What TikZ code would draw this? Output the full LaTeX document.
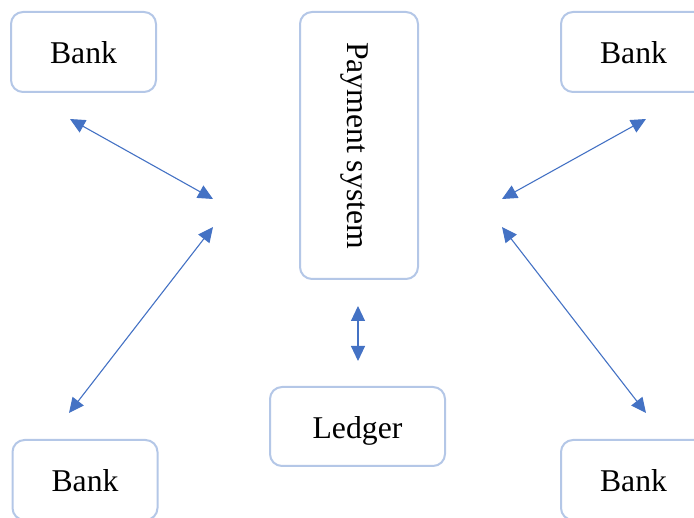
\documentclass[tikz,border=0pt]{standalone}
\usepackage{fontspec}
\setmainfont{Liberation Serif}
\usetikzlibrary{arrows.meta}
\definecolor{boxline}{HTML}{B4C7E7}
\definecolor{flow}{HTML}{4472C4}
\tikzset{
  label text/.style={inner sep=0pt, text height=24pt, text depth=0pt,
    font=\fontsize{31.7}{38}\selectfont},
  unit/.style={draw=boxline, line width=2pt, rounded corners=12pt, fill=white,
    label text},
  link/.style={draw=flow, line width=1.1pt,
    {Triangle[length=15pt,width=14pt]}-{Triangle[length=15pt,width=14pt]}}
}
\begin{document}
\begin{tikzpicture}[x=1pt, y=-1pt]
  \useasboundingbox (0,0) rectangle (694,518);
  \clip (0,0) rectangle (694,518);

  % participants
  \node[unit, minimum width=145pt, minimum height=80pt] (bankTL) at (83.5,52) {Bank};
  \node[unit, minimum width=145pt, minimum height=80pt] (bankTR) at (633.5,52) {Bank};
  \node[unit, minimum width=145pt, minimum height=80pt] (bankBL) at (85,480) {Bank};
  \node[unit, minimum width=145pt, minimum height=80pt] (bankBR) at (633.5,480) {Bank};
  \node[unit, minimum width=118pt, minimum height=267pt] (pay) at (359,145.5) {};
  \node[label text, rotate=-90] (paytext) at (pay.center) {Payment system};
  \node[unit, minimum width=175pt, minimum height=79pt] (ledger) at (357.5,426.5) {Ledger};

  % free ends of the message links
  \coordinate (tlA) at (70,119);   \coordinate (tlB) at (213,199);
  \coordinate (blA) at (213,227);  \coordinate (blB) at (69,413);
  \coordinate (trA) at (646,119);  \coordinate (trB) at (502,199);
  \coordinate (brA) at (502,227);  \coordinate (brB) at (646,413);
  \coordinate (ldA) at (358,306);  \coordinate (ldB) at (358,361);

  \draw[link] (tlA) -- (tlB);
  \draw[link] (blA) -- (blB);
  \draw[link] (trA) -- (trB);
  \draw[link] (brA) -- (brB);
  \draw[link] (ldA) -- (ldB);
\end{tikzpicture}
\end{document}
